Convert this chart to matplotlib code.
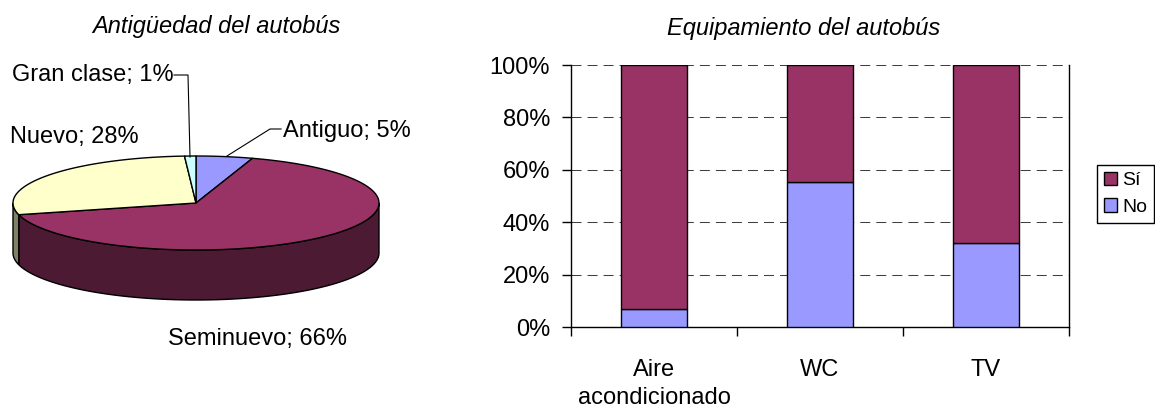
import numpy as np
import matplotlib.pyplot as plt
from matplotlib.patches import Polygon, Patch

# bus age (pie)
age_labels = ['Antiguo', 'Seminuevo', 'Nuevo', 'Gran clase']
age_values = [5, 66, 28, 1]
age_colors = ['#9999FF', '#993366', '#FFFFCC', '#CCFFFF']
age_side_colors = ['#4D4D80', '#4D1A33', '#808066', '#668080']

# bus equipment (stacked 100% bars)
equip_categories = ['Aire\nacondicionado', 'WC', 'TV']
equip_no = [7, 55.5, 32]
equip_si = [93, 44.5, 68]
y_ticks = [0, 20, 40, 60, 80, 100]

plt.rcParams['font.family'] = ['Liberation Sans', 'DejaVu Sans']
FS = 17

fig = plt.figure(figsize=(11.55, 4.18), dpi=100)

# ---- 3D-looking pie, drawn in pixel coordinates ----
pax = fig.add_axes([0, 0, 1, 1])
pax.set_xlim(0, 1155)
pax.set_ylim(418, 0)
pax.axis('off')

cx, cy, rx, ry, depth = 196, 203, 183, 47, 50
fracs = np.array(age_values) / sum(age_values)
edges = np.concatenate([[0], np.cumsum(fracs)]) * 360  # clockwise from 12 o'clock


def rim(a0, a1, dy=0):
    t = np.radians(np.linspace(a0, a1, 120))
    return np.column_stack([cx + rx * np.sin(t), cy - ry * np.cos(t) + dy])


# side walls (front half only)
for i in range(len(age_values)):
    a0, a1 = max(edges[i], 90), min(edges[i + 1], 270)
    if a1 > a0:
        pts = np.vstack([rim(a0, a1), rim(a0, a1, depth)[::-1]])
        pax.add_patch(Polygon(pts, closed=True, fc=age_side_colors[i], ec='black', lw=1))

# top faces
for i in range(len(age_values)):
    pts = np.vstack([[cx, cy], rim(edges[i], edges[i + 1])])
    pax.add_patch(Polygon(pts, closed=True, fc=age_colors[i], ec='black', lw=1))

lbl = [f'{n}; {v}%' for n, v in zip(age_labels, age_values)]
pax.text(283, 131, lbl[0], ha='left', va='center', fontsize=FS)
pax.text(257, 339, lbl[1], ha='center', va='center', fontsize=FS)
pax.text(10, 137, lbl[2], ha='left', va='center', fontsize=FS)
pax.text(12, 75, lbl[3], ha='left', va='center', fontsize=FS)
pax.plot([227, 270, 281], [156, 129, 129], color='black', lw=0.8)
pax.plot([190, 188, 174], [157, 75, 75], color='black', lw=0.8)

fig.text(216 / 1155, 1 - 33 / 418, 'Antigüedad del autobús', ha='center', va='baseline',
         fontsize=FS, style='italic')

# ---- stacked bar chart ----
bax = fig.add_axes([571 / 1155, 1 - 327 / 418, 498 / 1155, 262 / 418])
x = np.arange(len(equip_categories))
bax.bar(x, equip_no, 0.4, color='#9999FF', edgecolor='black', lw=1, zorder=3)
bax.bar(x, equip_si, 0.4, bottom=equip_no, color='#993366', edgecolor='black', lw=1, zorder=3)

bax.set_xlim(-0.5, len(equip_categories) - 0.5)
bax.set_ylim(0, 100)
bax.set_yticks(y_ticks)
bax.set_yticklabels([f'{v}%' for v in y_ticks], fontsize=FS)
bax.tick_params(axis='y', length=6.5, width=1, pad=8.5, direction='out')
bax.yaxis.grid(True, color='#404040', lw=0.75, ls=(0, (9.6, 5.8)), zorder=0)

bax.set_xticks(np.arange(-0.5, len(equip_categories)))
bax.set_xticklabels([])
bax.set_xticks(x, minor=True)
bax.set_xticklabels(equip_categories, minor=True, fontsize=FS, linespacing=1.38)
bax.tick_params(axis='x', which='major', length=6.5, width=1, direction='out')
bax.tick_params(axis='x', which='minor', length=0, pad=23)

bax.spines['top'].set_visible(False)
for s in ['left', 'bottom', 'right']:
    bax.spines[s].set_color('black')
    bax.spines[s].set_linewidth(1)

fig.text(804 / 1155, 1 - 35 / 418, 'Equipamiento del autobús', ha='center', va='baseline',
         fontsize=FS, style='italic')

handles = [Patch(fc='#993366', ec='black', lw=1), Patch(fc='#9999FF', ec='black', lw=1)]
fig.legend(handles, ['Sí', 'No'], loc='upper left', bbox_to_anchor=(1097 / 1155, 1 - 165 / 418),
           fontsize=14, frameon=True, fancybox=False, edgecolor='black', framealpha=1,
           borderpad=0.35, handlelength=0.7, handleheight=0.7, handletextpad=0.25,
           labelspacing=0.45, borderaxespad=0)

fig.savefig('out.png', dpi=100)
